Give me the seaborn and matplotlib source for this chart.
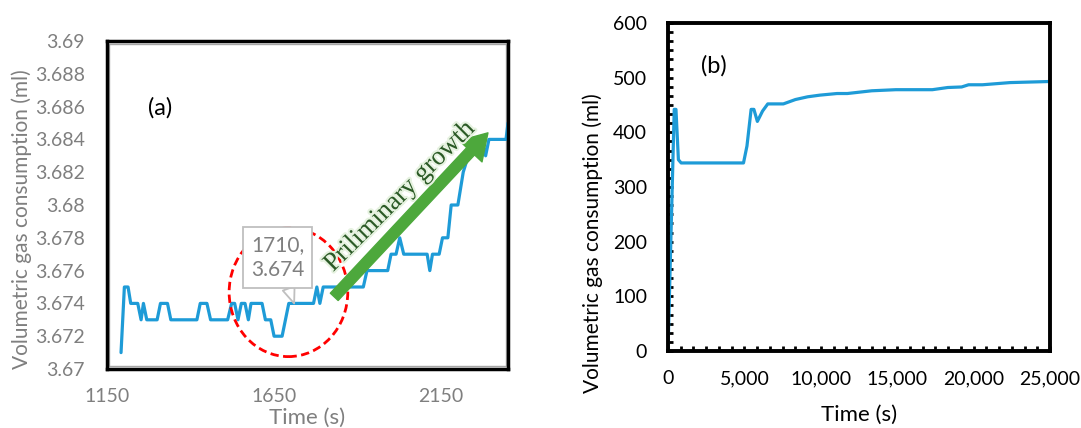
import matplotlib
matplotlib.use("Agg")
import matplotlib.pyplot as plt
import seaborn as sns
import numpy as np
from matplotlib.patches import Ellipse, Rectangle
from matplotlib.ticker import MultipleLocator, AutoMinorLocator, FuncFormatter
import matplotlib.patheffects as pe

# ---------------- data ----------------
# Panel (a): zoom on the early period
time_a = [1192, 1202, 1213, 1221, 1242, 1252, 1259, 1269, 1300, 1310, 1331, 1341,
          1419, 1429, 1449, 1460, 1511, 1523, 1532, 1542, 1552, 1563, 1573, 1581,
          1614, 1624, 1640, 1650, 1674, 1694, 1768, 1778, 1787, 1797, 1917, 1928,
          1990, 2000, 2015, 2026, 2038, 2108, 2116, 2124, 2144, 2154, 2170, 2180,
          2200, 2216, 2231, 2272, 2283, 2293, 2344, 2350]
gas_a = [3.671, 3.675, 3.675, 3.674, 3.674, 3.673, 3.674, 3.673, 3.673, 3.674, 3.674, 3.673,
         3.673, 3.674, 3.674, 3.673, 3.673, 3.674, 3.674, 3.673, 3.674, 3.674, 3.673, 3.674,
         3.674, 3.673, 3.673, 3.672, 3.672, 3.674, 3.674, 3.675, 3.674, 3.675, 3.675, 3.676,
         3.676, 3.677, 3.677, 3.678, 3.677, 3.677, 3.676, 3.677, 3.677, 3.678, 3.678, 3.680,
         3.680, 3.682, 3.683, 3.684, 3.683, 3.684, 3.684, 3.685]

# Panel (b): whole experiment
time_b = [0, 408, 521, 680, 861, 4941, 5168, 5440, 5621, 5848, 6190, 6530, 7550,
          8340, 9140, 9930, 11060, 11740, 13330, 14910, 17300, 18310, 19220, 19670,
          20580, 22390, 25000]
gas_b = [0, 442, 442, 350, 344, 344, 375, 442, 442, 420, 439, 452, 452,
         460, 465, 468, 471, 471, 476, 478, 478, 482, 483, 487,
         487, 491, 493]

xticks_a = [1150, 1650, 2150]
yticks_a = [3.67, 3.672, 3.674, 3.676, 3.678, 3.68, 3.682, 3.684, 3.686, 3.688, 3.69]
ytick_labels_a = ["3.67", "3.672", "3.674", "3.676", "3.678", "3.68", "3.682",
                  "3.684", "3.686", "3.688", "3.69"]
xticks_b = [0, 5000, 10000, 15000, 20000, 25000]
yticks_b = [0, 100, 200, 300, 400, 500, 600]

callout_point = (1710, 3.674)
callout_text = "1710,\n3.674"
arrow_tail = (1830, 3.6744)
arrow_tip = (2290, 3.6844)
growth_text = "Priliminary growth"

# ---------------- style ----------------
sns.set_style("white")
plt.rcParams["font.family"] = ["Lato", "DejaVu Sans"]

BLUE = "#1E9BD7"
GRAY = "#7F7F7F"
GREEN = "#4DA83C"

fig = plt.figure(figsize=(10.81, 4.28), dpi=100)
ax1 = fig.add_axes([107 / 1081, 1 - 369 / 428, 401 / 1081, 328 / 428])
ax2 = fig.add_axes([668 / 1081, 1 - 351 / 428, 382 / 1081, 328 / 428])

# ---------------- panel (a) ----------------
sns.lineplot(x=time_a, y=gas_a, ax=ax1, color=BLUE, lw=2.3, sort=False)
ax1.set_xlim(1150, 2350)
ax1.set_ylim(3.67, 3.69)
ax1.set_xticks(xticks_a)
ax1.set_yticks(yticks_a)
ax1.set_yticklabels(ytick_labels_a)
ax1.tick_params(axis="both", length=0, labelsize=14, labelcolor=GRAY)
ax1.tick_params(axis="y", pad=16)
ax1.tick_params(axis="x", pad=14)
for s in ax1.spines.values():
    s.set_color("black")
    s.set_linewidth(2.5)
ax1.add_patch(Rectangle((0.006, 0.008), 0.988, 0.984, transform=ax1.transAxes,
                        fill=False, ec="#A6A6A6", lw=1, zorder=1))
ax1.set_xlabel("Time (s)", fontsize=16, color=GRAY)
ax1.set_ylabel("Volumetric gas consumption (ml)", fontsize=15, color=GRAY)
ax1.xaxis.label.set_va("center")
ax1.yaxis.label.set_va("center")
ax1.xaxis.set_label_coords(0.5, -0.150)
ax1.yaxis.set_label_coords(-0.212, 0.457)

ax1.text(1310, 3.6859, "(a)", fontsize=17, color="black", ha="center", va="center")

circ = Ellipse((1693, 3.67468), width=355, height=0.00785, fill=False,
               ec="#FF0000", lw=2, linestyle=(0, (3, 1.6)), zorder=4)
ax1.add_patch(circ)

ax1.annotate(callout_text, xy=callout_point, xytext=(1660, 3.6768),
             ha="center", va="center", fontsize=15, color=GRAY, linespacing=1.3,
             bbox=dict(boxstyle="square,pad=0.38", fc="white", ec="#BFBFBF", lw=1.3),
             arrowprops=dict(arrowstyle="wedge,tail_width=0.6,shrink_factor=0.5",
                             fc="white", ec="#BFBFBF", lw=1.3,
                             shrinkA=0, shrinkB=0),
             zorder=6)

ax1.annotate("", xy=arrow_tip, xytext=arrow_tail,
             arrowprops=dict(arrowstyle="simple,head_width=1.6,head_length=1.3,tail_width=0.55",
                             mutation_scale=14, color=GREEN, shrinkA=0, shrinkB=0),
             zorder=7)
ax1.text(2027, 3.6805, growth_text, rotation=45, rotation_mode="anchor",
         ha="center", va="center", fontsize=19, color="#2B5A26",
         family=["Liberation Serif", "DejaVu Serif"], zorder=8,
         path_effects=[pe.withStroke(linewidth=3, foreground="#E6F2E0")])

# ---------------- panel (b) ----------------
sns.lineplot(x=time_b, y=gas_b, ax=ax2, color=BLUE, lw=2.3, sort=False)
ax2.set_xlim(0, 25000)
ax2.set_ylim(0, 600)
ax2.set_xticks(xticks_b)
ax2.set_yticks(yticks_b)
ax2.xaxis.set_major_formatter(FuncFormatter(lambda v, p: f"{int(v):,}"))
ax2.xaxis.set_minor_locator(AutoMinorLocator(6))
ax2.yaxis.set_minor_locator(AutoMinorLocator(6))
ax2.tick_params(axis="both", which="both", direction="in", length=3.5, width=2,
                color="black", labelsize=14, labelcolor="black",
                bottom=True, left=True, top=False, right=False)
ax2.tick_params(axis="y", which="major", pad=15)
ax2.tick_params(axis="x", which="major", pad=14)
for s in ax2.spines.values():
    s.set_color("black")
    s.set_linewidth(2.8)
ax2.set_xlabel("Time (s)", fontsize=16, color="black")
ax2.set_ylabel("Volumetric gas consumption (ml)", fontsize=15, color="black")
ax2.xaxis.label.set_va("center")
ax2.yaxis.label.set_va("center")
ax2.xaxis.set_label_coords(0.5, -0.195)
ax2.yaxis.set_label_coords(-0.196, 0.33)
ax2.text(3015, 522, "(b)", fontsize=17, color="black", ha="center", va="center")

fig.savefig("out.png", dpi=100)
